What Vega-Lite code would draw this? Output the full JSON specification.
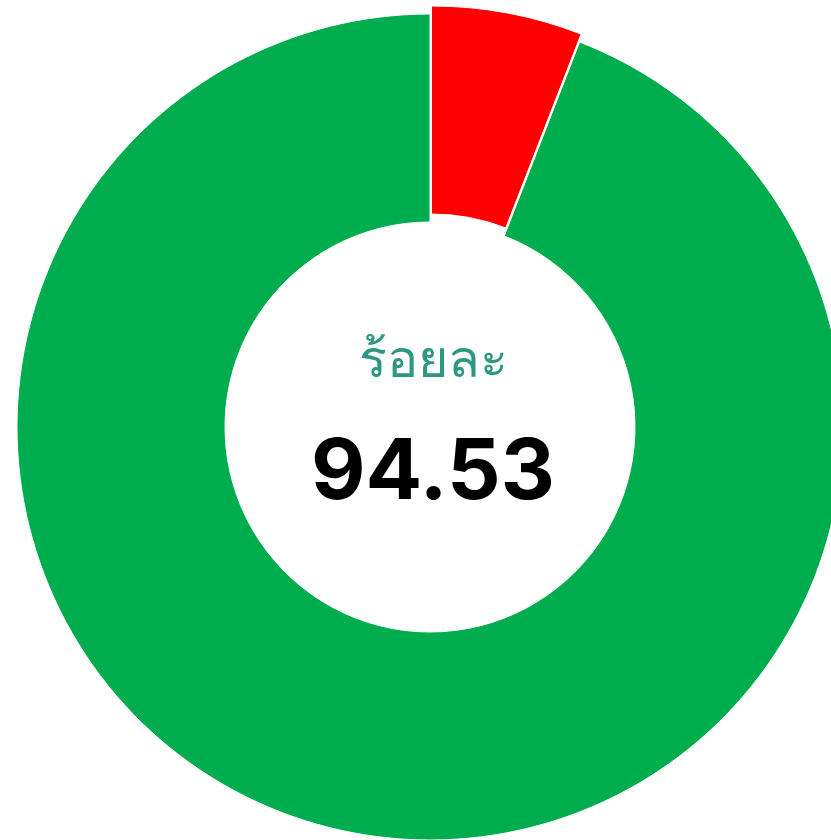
{
  "$schema": "https://vega.github.io/schema/vega-lite/v6.json",
  "width": 860,
  "height": 854,
  "padding": 0,
  "autosize": {"type": "none"},
  "background": "white",
  "config": {"view": {"stroke": null}},
  "datasets": {
    "slices": [
      {"category": "ไม่ผ่าน", "value": 5.9, "rank": 1},
      {"category": "ผ่าน", "value": 94.1, "rank": 2}
    ],
    "labels": [
      {"caption": "ร้อยละ", "number": "94.53"}
    ]
  },
  "layer": [
    {
      "data": {"name": "slices"},
      "mark": {"type": "arc", "outerRadius": 413, "innerRadius": 205, "stroke": "white", "strokeWidth": 1},
      "encoding": {
        "theta": {"field": "value", "type": "quantitative", "stack": true},
        "order": {"field": "rank", "type": "quantitative"},
        "color": {"field": "category", "type": "nominal", "scale": {"domain": ["ไม่ผ่าน", "ผ่าน"], "range": ["#ff0000", "#00ad4e"]}, "legend": null},
        "opacity": {"condition": {"test": "datum.category === 'ไม่ผ่าน'", "value": 0}, "value": 1}
      }
    },
    {
      "data": {"name": "slices"},
      "mark": {"type": "arc", "outerRadius": 413, "innerRadius": 205, "stroke": "white", "strokeWidth": 1, "xOffset": 1.5, "yOffset": -8},
      "encoding": {
        "theta": {"field": "value", "type": "quantitative", "stack": true},
        "order": {"field": "rank", "type": "quantitative"},
        "color": {"field": "category", "type": "nominal", "scale": {"domain": ["ไม่ผ่าน", "ผ่าน"], "range": ["#ff0000", "#00ad4e"]}, "legend": null},
        "opacity": {"condition": {"test": "datum.category === 'ไม่ผ่าน'", "value": 1}, "value": 0}
      }
    },
    {
      "data": {"name": "labels"},
      "mark": {"type": "text", "font": "Noto Sans", "fontSize": 52, "color": "#2b9981", "baseline": "alphabetic", "align": "center", "dx": 3, "dy": -50},
      "encoding": {"text": {"field": "caption"}}
    },
    {
      "data": {"name": "labels"},
      "mark": {"type": "text", "font": "Inter", "fontWeight": "bold", "fontSize": 84, "letterSpacing": -4, "color": "black", "baseline": "alphabetic", "align": "center", "dx": 3, "dy": 72},
      "encoding": {"text": {"field": "number"}}
    }
  ]
}
